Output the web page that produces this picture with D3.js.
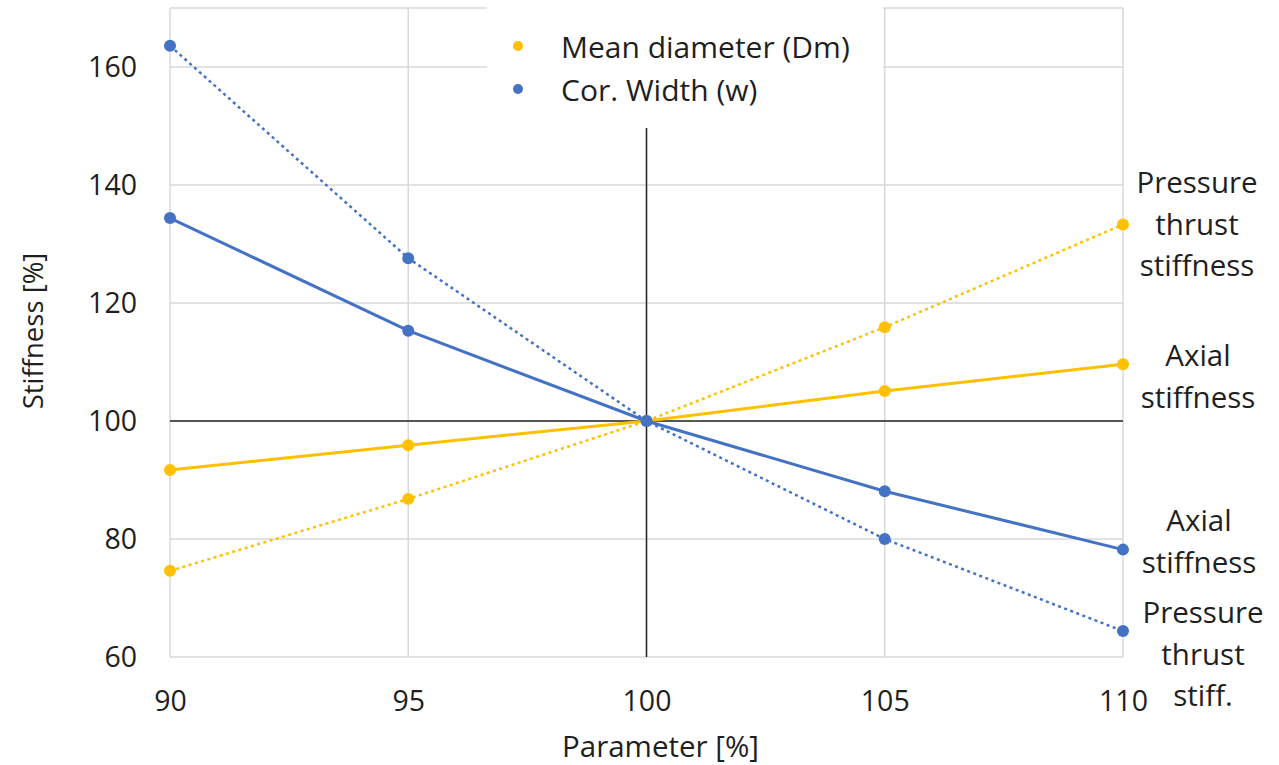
<!DOCTYPE html>
<html>
<head>
<meta charset="utf-8">
<script src="https://cdn.jsdelivr.net/npm/d3@7"></script>
<style>
  html, body { margin: 0; padding: 0; background: #fff; }
  svg text { font-family: "Open Sans", "Liberation Sans", sans-serif; fill: #1f1f1f; }
</style>
</head>
<body>
<svg id="chart" width="1279" height="765"></svg>
<script>
// ---- data ----
const params = [90, 95, 100, 105, 110];
const dmAxial = [91.7, 95.9, 100, 105.1, 109.6];
const dmPressure = [74.6, 86.8, 100, 115.9, 133.3];
const wAxial = [134.4, 115.3, 100, 88.1, 78.2];
const wPressure = [163.6, 127.6, 100, 80.0, 64.4];
const yTicks = [60, 80, 100, 120, 140, 160];
const xTicks = [90, 95, 100, 105, 110];
const legendLabels = ["Mean diameter (Dm)", "Cor. Width (w)"];
const rightLabelsTop = [["Pressure", "thrust", "stiffness"], ["Axial", "stiffness"]];
const rightLabelsBottom = [["Axial", "stiffness"], ["Pressure", "thrust", "stiff."]];

(function () {
const YELLOW = "#FFC000", BLUE = "#4472C4";

const svg = d3.select("#chart");
const pLeft = 170, pRight = 1123, pBottom = 657;
const x = d3.scaleLinear().domain([90, 110]).range([pLeft, pRight]);
const y = d3.scaleLinear().domain([60, 170]).range([pBottom, pBottom - 110 * 5.9]);

// gridlines
const grid = svg.append("g");
grid.selectAll("line.h").data(yTicks).join("line")
  .attr("x1", pLeft).attr("x2", pRight)
  .attr("y1", d => y(d)).attr("y2", d => y(d))
  .attr("stroke", "#D9D9D9").attr("stroke-width", 1.5);
grid.selectAll("line.v").data(xTicks).join("line")
  .attr("x1", d => x(d)).attr("x2", d => x(d))
  .attr("y1", y(170)).attr("y2", pBottom)
  .attr("stroke", "#D9D9D9").attr("stroke-width", 1.5);
grid.append("line").attr("x1", pLeft).attr("x2", pRight)
  .attr("y1", y(170)).attr("y2", y(170))
  .attr("stroke", "#D9D9D9").attr("stroke-width", 1.5);

// legend background (covers gridlines)
svg.append("rect").attr("x", 487).attr("y", 0).attr("width", 396).attr("height", 128).attr("fill", "#fff");

// black reference lines
svg.append("line").attr("x1", pLeft).attr("x2", pRight)
  .attr("y1", y(100)).attr("y2", y(100)).attr("stroke", "#262626").attr("stroke-width", 1.5);
svg.append("line").attr("x1", x(100)).attr("x2", x(100))
  .attr("y1", 128).attr("y2", pBottom).attr("stroke", "#262626").attr("stroke-width", 1.5);

// axes labels
const yAxis = d3.axisLeft(y).tickValues(yTicks).tickSize(0).tickPadding(0);
const gy = svg.append("g").attr("transform", `translate(${pLeft - 33},0)`).call(yAxis);
gy.select(".domain").remove();
gy.selectAll("text").attr("font-size", 28.5).attr("font-family", "'Open Sans', sans-serif").attr("fill", "#1f1f1f").attr("dy", "0.35em");

const xAxis = d3.axisBottom(x).tickValues(xTicks).tickSize(0).tickPadding(0);
const gx = svg.append("g").attr("transform", `translate(0,${pBottom + 40})`).call(xAxis);
gx.select(".domain").remove();
gx.selectAll("text").attr("font-size", 28.5).attr("font-family", "'Open Sans', sans-serif").attr("fill", "#1f1f1f").attr("dy", "0.5em");

svg.append("text").attr("x", x(100) + 14).attr("y", 757).attr("text-anchor", "middle")
  .attr("font-size", 29.5).text("Parameter [%]");
svg.append("text").attr("transform", "translate(43,331) rotate(-90)").attr("text-anchor", "middle")
  .attr("font-size", 27.5).text("Stiffness [%]");

// series
const series = [
  { vals: dmPressure, color: YELLOW, dash: "3 3.5", w: 2.5 },
  { vals: wPressure, color: BLUE, dash: "3 3.5", w: 2.5 },
  { vals: dmAxial, color: YELLOW, dash: null, w: 3 },
  { vals: wAxial, color: BLUE, dash: null, w: 3 },
];
const line = d3.line().x((d, i) => x(params[i])).y(d => y(d));
series.forEach(s => {
  svg.append("path").datum(s.vals).attr("d", line)
    .attr("fill", "none").attr("stroke", s.color).attr("stroke-width", s.w)
    .attr("stroke-dasharray", s.dash);
  svg.append("g").selectAll("circle").data(s.vals).join("circle")
    .attr("cx", (d, i) => x(params[i])).attr("cy", d => y(d)).attr("r", 6)
    .attr("fill", s.color);
});

// legend
const legendColors = [YELLOW, BLUE];
const lg = svg.append("g");
legendLabels.forEach((t, i) => {
  lg.append("circle").attr("cx", 518).attr("cy", 46 + i * 43).attr("r", 5).attr("fill", legendColors[i]);
  lg.append("text").attr("x", 561).attr("y", 47 + i * 43).attr("dy", "0.36em")
    .attr("font-size", 30).text(t);
});

// right-side labels
function block(lines, cx, firstBaseline) {
  lines.forEach((t, i) => {
    svg.append("text").attr("x", cx).attr("y", firstBaseline + i * 41.5)
      .attr("text-anchor", "middle").attr("font-size", 29.5).text(t);
  });
}
block(rightLabelsTop[0], 1197, 193);
block(rightLabelsTop[1], 1198, 366);
block(rightLabelsBottom[0], 1199, 531);
block(rightLabelsBottom[1], 1203, 623);
})();
</script>
</body>
</html>
